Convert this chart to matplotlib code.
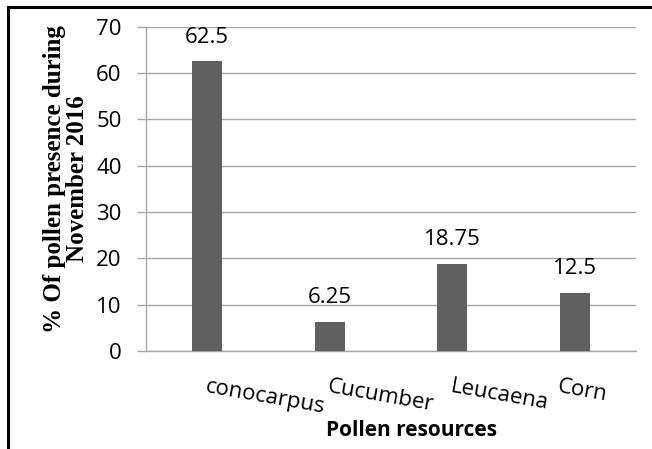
import matplotlib
matplotlib.use("Agg")
import matplotlib.pyplot as plt
from matplotlib.lines import Line2D
from matplotlib.transforms import ScaledTranslation

categories = ["conocarpus", "Cucumber", "Leucaena", "Corn"]
values = [62.5, 6.25, 18.75, 12.5]
value_labels = ["62.5", "6.25", "18.75", "12.5"]
yticks = [0, 10, 20, 30, 40, 50, 60, 70]

sans = ["Open Sans", "DejaVu Sans"]
serif = ["Liberation Serif", "DejaVu Serif"]

fig = plt.figure(figsize=(6.52, 4.49), dpi=100)
ax = fig.add_axes([146 / 652, 98 / 449, 490 / 652, 324.5 / 449])

x = range(len(categories))
bars = ax.bar(x, values, width=0.245, color="#606060", zorder=3)

for b, lab in zip(bars, value_labels):
    ax.annotate(lab, (b.get_x() + b.get_width() / 2, b.get_height()),
                xytext=(0, 13.5), textcoords="offset points",
                ha="center", va="baseline", fontsize=16, family=sans, color="black")

ax.set_xlim(-0.5, len(categories) - 0.5)
ax.set_ylim(0, 70)
ax.set_yticks(yticks)
ax.set_yticklabels([str(t) for t in yticks], fontsize=16, family=sans)
ax.yaxis.grid(True, color="#a6a6a6", linewidth=1.0, zorder=0)
ax.set_axisbelow(True)

ax.set_xticks(list(x))
ax.set_xticklabels(categories, fontsize=16, family=sans, rotation=-10,
                   ha="left", va="top", rotation_mode="anchor")
ax.tick_params(axis="x", length=0, pad=18)
ax.tick_params(axis="y", length=6.5, width=1, color="#a6a6a6", pad=11)

# keep the last category label inside the chart area
last = ax.get_xticklabels()[-1]
last.set_transform(last.get_transform() + ScaledTranslation(-15 / 100, 0, fig.dpi_scale_trans))

for side in ("top", "right"):
    ax.spines[side].set_visible(False)
for side in ("left", "bottom"):
    ax.spines[side].set_color("#a6a6a6")
    ax.spines[side].set_linewidth(1.0)

fig.text(411 / 652, 1 - 430 / 449, "Pollen resources", ha="center", va="center",
         fontsize=15, fontweight="bold", family=sans)
fig.text(66 / 652, 1 - 179 / 449, "% Of pollen presence during\nNovember 2016",
         ha="center", va="center", rotation=90, fontsize=18, fontweight="bold",
         family=serif, linespacing=1.05)

# frame lines along the top and left edge
fig.add_artist(Line2D([8 / 652, 8 / 652], [0, 1 - 7 / 449], transform=fig.transFigure,
                      color="black", linewidth=2.2))
fig.add_artist(Line2D([8 / 652, 1], [1 - 7 / 449, 1 - 7 / 449], transform=fig.transFigure,
                      color="black", linewidth=2.2))

fig.savefig("out.png", dpi=100)
